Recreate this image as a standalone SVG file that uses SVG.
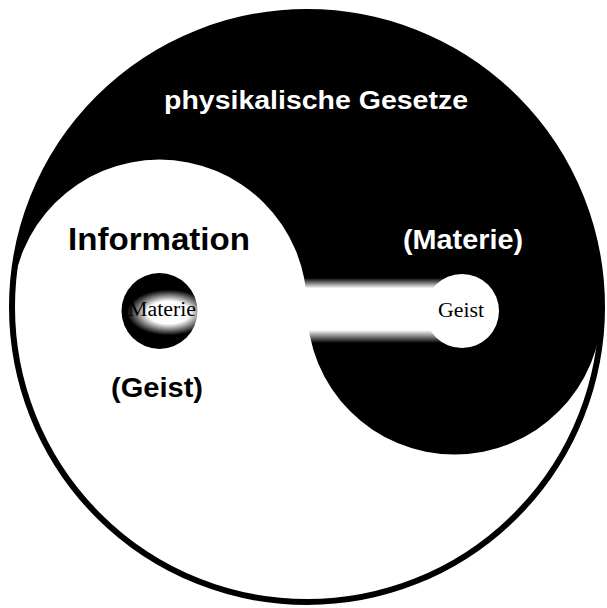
<svg xmlns="http://www.w3.org/2000/svg" width="607" height="608" viewBox="0 0 607 608">
  <defs>
    <style>
      .sans { font-family: "Liberation Sans", Arial, sans-serif; font-weight: bold; }
      .serif { font-family: "Liberation Serif", "Times New Roman", serif; }
    </style>
    <radialGradient id="ballGrad" cx="0.62" cy="0.52" r="0.5" gradientTransform="translate(0.62 0.52) scale(1.1 0.6) translate(-0.62 -0.52)">
      <stop offset="0" stop-color="#fff"/>
      <stop offset="0.5" stop-color="#fff"/>
      <stop offset="1" stop-color="#000"/>
    </radialGradient>
    <linearGradient id="bridgeGrad" x1="0" y1="0" x2="0" y2="1">
      <stop offset="0" stop-color="#fff" stop-opacity="0"/>
      <stop offset="0.16" stop-color="#fff" stop-opacity="1"/>
      <stop offset="0.8" stop-color="#fff" stop-opacity="1"/>
      <stop offset="1" stop-color="#fff" stop-opacity="0"/>
    </linearGradient>
  </defs>
  <rect width="607" height="608" fill="#fff"/>
  <g id="yinyang">
    <path d="M 12 307 A 295 295 0 0 1 602 307 A 147.5 147.5 0 0 1 307 307 A 147.5 147.5 0 0 0 12 307 Z" fill="#000"/>
    <circle cx="307" cy="307" r="295" fill="none" stroke="#000" stroke-width="6"/>
  </g>
  <g id="bridge">
    <rect x="303" y="278" width="140" height="65" fill="url(#bridgeGrad)"/>
  </g>
  <g id="node-materie">
    <circle cx="159.5" cy="311" r="38" fill="url(#ballGrad)"/>
    <text class="serif" x="128" y="316" font-size="20" textLength="68" lengthAdjust="spacingAndGlyphs" fill="#000">Materie</text>
  </g>
  <g id="node-geist">
    <circle cx="462" cy="311" r="37" fill="#fff"/>
    <text class="serif" x="438" y="317" font-size="21" textLength="46" lengthAdjust="spacingAndGlyphs" fill="#000">Geist</text>
  </g>
  <g id="labels">
    <text class="sans" x="164" y="109" font-size="25" textLength="304" lengthAdjust="spacingAndGlyphs" fill="#fff">physikalische Gesetze</text>
    <text class="sans" x="68" y="250" font-size="31" textLength="182" lengthAdjust="spacingAndGlyphs" fill="#000">Information</text>
    <text class="sans" x="403" y="249" font-size="27" textLength="120" lengthAdjust="spacingAndGlyphs" fill="#fff">(Materie)</text>
    <text class="sans" x="111" y="397" font-size="27" textLength="92" lengthAdjust="spacingAndGlyphs" fill="#000">(Geist)</text>
  </g>
</svg>
